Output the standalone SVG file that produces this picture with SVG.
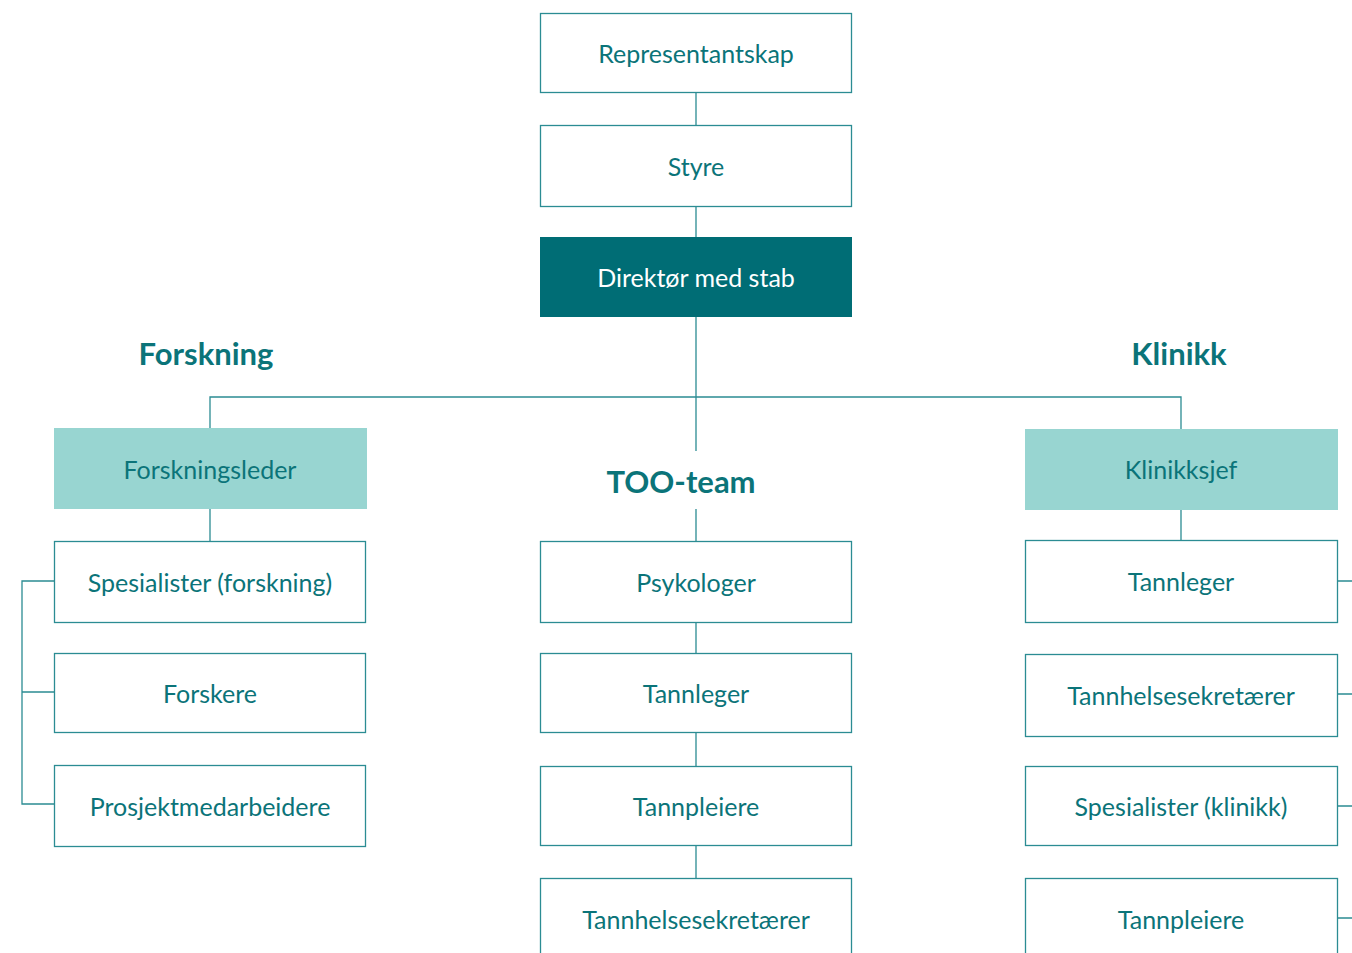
<svg xmlns="http://www.w3.org/2000/svg" width="1352" height="953" viewBox="0 0 1352 953">
<style>
.box{fill:#ffffff;stroke:#2b8c93;stroke-width:1.3}
.dark{fill:#006d75}
.light{fill:#98d5d1}
.t{font-family:"Lato","Noto Sans",sans-serif;font-size:25px;fill:#0b7479;text-anchor:middle;dominant-baseline:central}
.tw{fill:#ffffff}
.h{font-family:"Lato","Noto Sans",sans-serif;font-size:31px;font-weight:bold;fill:#0b7479;text-anchor:middle;dominant-baseline:central}
.c{stroke:#2b8c93;stroke-width:1.3;fill:none}
</style>
<rect width="1352" height="953" fill="#ffffff"/>
<g id="connectors">
<path class="c" d="M696 92V125M696 206V237M696 316V451M210 428V397H1181V429"/>
<path class="c" d="M210 508V541M696 509V541M696 622V653M696 732V766M696 845V878M1181 509V540"/>
<path class="c" d="M54 581H22V804H54M22 692H54"/>
<path class="c" d="M1337 581H1352M1337 694H1352M1337 806H1352M1337 918H1352"/>
</g>
<g id="h-forskning"><text class="h" x="206" y="353">Forskning</text></g>
<g id="h-klinikk"><text class="h" x="1179" y="353">Klinikk</text></g>
<g id="h-too"><text class="h" x="681" y="481">TOO-team</text></g>
<g id="n-representantskap"><rect class="box" x="540.5" y="13.5" width="311" height="79"/><text class="t" x="696" y="53">Representantskap</text></g>
<g id="n-styre"><rect class="box" x="540.5" y="125.5" width="311" height="81"/><text class="t" x="696" y="166">Styre</text></g>
<g id="n-direktor"><rect class="dark" x="540" y="237" width="312" height="80"/><text class="t tw" x="696" y="277">Direktør med stab</text></g>
<g id="n-forskningsleder"><rect class="light" x="54" y="428" width="313" height="81"/><text class="t" x="210" y="469">Forskningsleder</text></g>
<g id="n-klinikksjef"><rect class="light" x="1025" y="429" width="313" height="81"/><text class="t" x="1181" y="469">Klinikksjef</text></g>
<g id="n-spes-forsk"><rect class="box" x="54.5" y="541.5" width="311" height="81"/><text class="t" x="210" y="582">Spesialister (forskning)</text></g>
<g id="n-forskere"><rect class="box" x="54.5" y="653.5" width="311" height="79"/><text class="t" x="210" y="693">Forskere</text></g>
<g id="n-prosjekt"><rect class="box" x="54.5" y="765.5" width="311" height="81"/><text class="t" x="210" y="806">Prosjektmedarbeidere</text></g>
<g id="n-psykologer"><rect class="box" x="540.5" y="541.5" width="311" height="81"/><text class="t" x="696" y="582">Psykologer</text></g>
<g id="n-tannleger-too"><rect class="box" x="540.5" y="653.5" width="311" height="79"/><text class="t" x="696" y="693">Tannleger</text></g>
<g id="n-tannpleiere-too"><rect class="box" x="540.5" y="766.5" width="311" height="79"/><text class="t" x="696" y="806">Tannpleiere</text></g>
<g id="n-tannhelse-too"><rect class="box" x="540.5" y="878.5" width="311" height="90"/><text class="t" x="696" y="919">Tannhelsesekretærer</text></g>
<g id="n-tannleger-kl"><rect class="box" x="1025.5" y="540.5" width="312" height="82"/><text class="t" x="1181" y="581">Tannleger</text></g>
<g id="n-tannhelse-kl"><rect class="box" x="1025.5" y="654.5" width="312" height="82"/><text class="t" x="1181" y="695">Tannhelsesekretærer</text></g>
<g id="n-spes-kl"><rect class="box" x="1025.5" y="766.5" width="312" height="79"/><text class="t" x="1181" y="806">Spesialister (klinikk)</text></g>
<g id="n-tannpleiere-kl"><rect class="box" x="1025.5" y="878.5" width="312" height="90"/><text class="t" x="1181" y="919">Tannpleiere</text></g>
</svg>
